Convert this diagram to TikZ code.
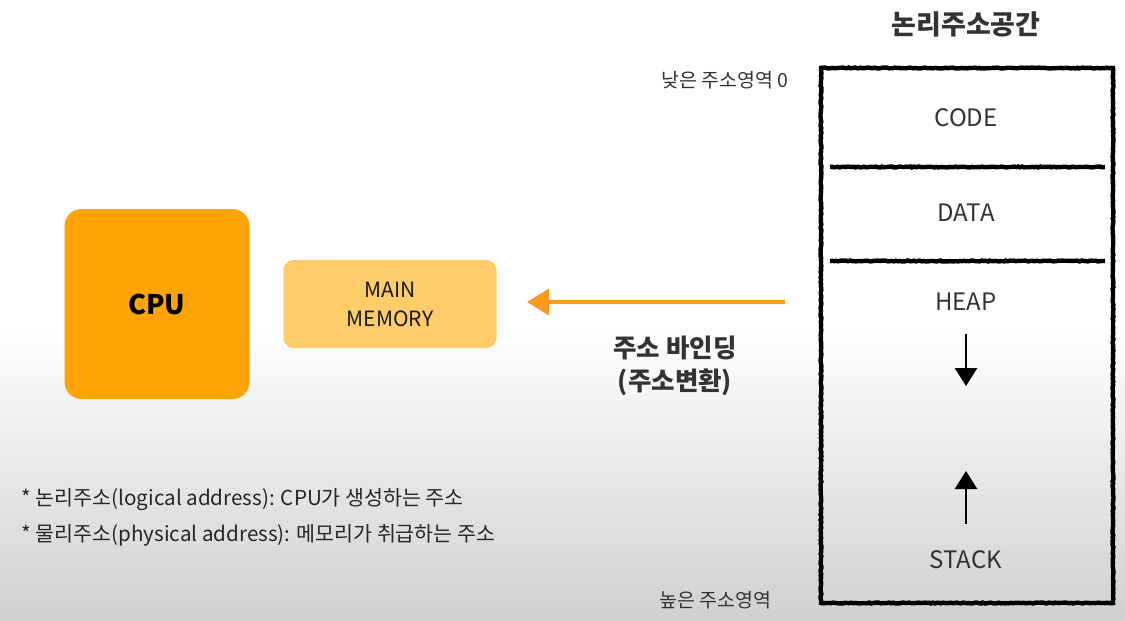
\documentclass[tikz,border=0pt]{standalone}
\usepackage{fontspec}
\setmainfont{Noto Sans CJK KR}
\usetikzlibrary{arrows.meta,decorations.pathmorphing}
\definecolor{txt}{HTML}{333333}
\definecolor{cpuor}{HTML}{FFA404}
\definecolor{memor}{HTML}{FFCC6A}
\definecolor{arrowor}{HTML}{FF9A1E}
\definecolor{bggray}{HTML}{D0D0D0}
\tikzset{
  sketch/.style={draw=black, line width=4.4pt, decorate, decoration={random steps, segment length=2pt, amplitude=0.5pt}},
  seglabel/.style={text=txt, font=\fontsize{24}{26}\selectfont},
  sidelabel/.style={text=txt, font=\fontsize{19.5}{21}\selectfont},
  note/.style={text=black!85, font=\fontsize{20.6}{22}\selectfont, anchor=west},
  boldlabel/.style={text=txt, font=\bfseries\fontsize{25.5}{33}\selectfont, align=center},
  growarrow/.style={draw=black, line width=2.8pt, -{Triangle[width=22pt,length=18pt]}},
}
\begin{document}
\begin{tikzpicture}[x=1pt,y=-1pt]
\useasboundingbox (0,0) rectangle (1125,621);
\fill[white] (0,0) rectangle (1125,330);
\shade[top color=white, bottom color=bggray] (0,329) rectangle (1125,621);

% title
\node[text=txt, font=\bfseries\fontsize{27}{29}\selectfont] (title) at (966,24) {논리주소공간};

% memory layout box
\coordinate (boxtl) at (821,68);
\coordinate (boxbr) at (1113,603);
\path[sketch] (boxtl) rectangle (boxbr);
\coordinate (d1l) at (830,167); \coordinate (d1r) at (1105,167);
\coordinate (d2l) at (830,261); \coordinate (d2r) at (1105,261);
\path[sketch] (d1l) -- (d1r);
\path[sketch] (d2l) -- (d2r);

\node[seglabel] (code) at (966,118) {CODE};
\node[seglabel] (data) at (966,213) {DATA};
\node[seglabel] (heap) at (966,302) {HEAP};
\node[seglabel] (stack) at (966,560) {STACK};

\coordinate (hs) at (966,334);
\coordinate (he) at (966,386);
\draw[growarrow] (hs) -- (he);
\coordinate (ss) at (966,524);
\coordinate (se) at (966,471);
\draw[growarrow] (ss) -- (se);

\node[sidelabel, anchor=east] (low) at (792,80) {낮은 주소영역 0};
\node[sidelabel, anchor=east] (high) at (775,600) {높은 주소영역};

% CPU and memory
\node[fill=cpuor, rounded corners=17pt, minimum width=185pt, minimum height=190pt,
      font=\bfseries\fontsize{27}{29}\selectfont, text=black] (cpu) at (157,304) {CPU};
\node[fill=memor, rounded corners=10pt, minimum width=213pt, minimum height=88pt,
      font=\fontsize{21}{29}\selectfont, text=black!90, align=center] (mem) at (390,304) {MAIN\\MEMORY};

% binding arrow
\coordinate (bstart) at (785,302);
\coordinate (bend) at (527,302);
\draw[draw=arrowor, line width=3.8pt, -{Triangle[width=26pt,length=22pt]}] (bstart) -- (bend);
\node[boldlabel] (bind) at (675,366) {주소 바인딩\\(주소변환)};

% notes
\node[note] (n1) at (18,500) {* 논리주소(logical address): CPU가 생성하는 주소};
\node[note] (n2) at (18,535) {* 물리주소(physical address): 메모리가 취급하는 주소};
\end{tikzpicture}
\end{document}
